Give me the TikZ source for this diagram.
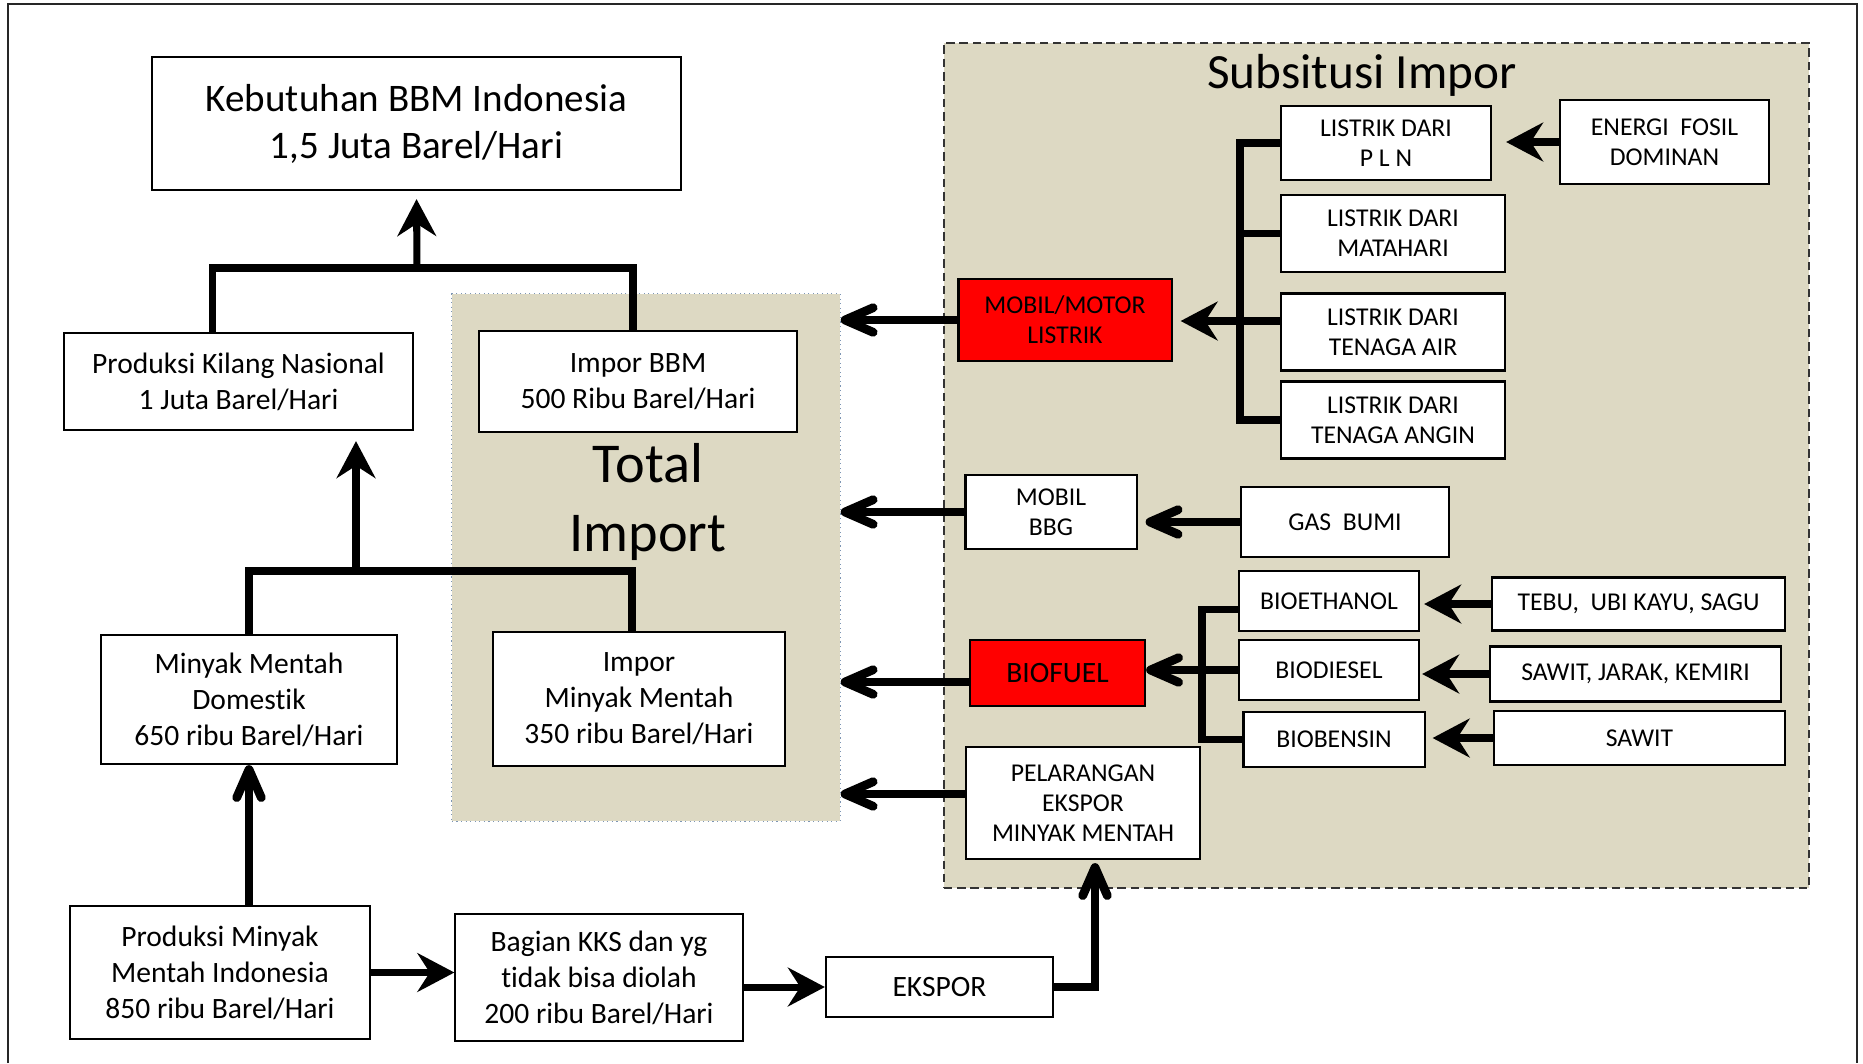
\documentclass[tikz,border=0pt]{standalone}
\usepackage{fontspec}
\setmainfont{Carlito}[Ligatures=NoCommon]
\usetikzlibrary{arrows.meta}
\definecolor{tanbg}{RGB}{221,217,195}
\definecolor{dotblue}{RGB}{125,150,180}
\newcommand{\fsHead}{\fontsize{11.1}{13.4}\selectfont}
\newcommand{\fsMain}{\fontsize{8.4}{10.2}\selectfont}
\newcommand{\fsSmall}{\fontsize{7.3}{8.6}\selectfont}
\newcommand{\fsTitle}{\fontsize{14}{17}\selectfont}
\newcommand{\fsBig}{\fontsize{16}{19.6}\selectfont}
\tikzset{
  sz/.style 2 args={minimum width=#1, minimum height=#2},
  box/.style={draw=black, line width=0.6pt, fill=white, align=center, inner sep=0pt, font=\fsMain},
  sbox/.style={box, font=\fsSmall},
  redbox/.style={box, fill=red},
  substbg/.style={draw=black!80, line width=0.6pt, dash pattern=on 2.4pt off 1.4pt, fill=tanbg, inner sep=0pt},
  impbg/.style={draw=dotblue, line width=0.3pt, densely dotted, fill=tanbg, inner sep=0pt},
  link/.style={line width=2pt},
  arrS/.style={line width=2pt, -{Stealth[length=10.5pt, width=11pt, inset=3.5pt]}},
  arrV/.style={line width=2.5pt, -{Straight Barb[round, length=8pt, width=7pt]}},
}
\begin{document}
\begin{tikzpicture}[x=0.01cm, y=-0.01cm]
    \useasboundingbox (0,0) rectangle (1863,1063);
    % Outer frame
    \draw[line width=0.8pt, black!85] (8,1063) -- (8,4) -- (1857,4) -- (1857,1063);

    % Background regions
    \node[impbg, sz={3.88cm}{5.27cm}] (totimp) at (646,557.5) {};
    \node[font=\fsBig, align=center] (totlabel) at (648,502) {Total\\Import};
    \node[substbg, sz={8.65cm}{8.45cm}] (subst) at (1376.5,465.5) {};
    \node[font=\fsTitle] (subtitle) at (1362,75) {Subsitusi Impor};

    % Supply side
    \node[box, font=\fsHead, sz={5.29cm}{1.33cm}] (keb) at (416.5,123.5) {Kebutuhan BBM Indonesia\\1,5 Juta Barel/Hari};
    \node[box, sz={3.49cm}{0.97cm}] (kilang) at (238.5,381.5) {Produksi Kilang Nasional\\1 Juta Barel/Hari};
    \node[box, sz={3.18cm}{1.01cm}] (imporbbm) at (638,381.5) {Impor BBM\\500 Ribu Barel/Hari};
    \node[box, sz={2.96cm}{1.29cm}] (minyakdom) at (249,699.5) {Minyak Mentah\\Domestik\\650 ribu Barel/Hari};
    \node[box, sz={2.92cm}{1.34cm}] (impormm) at (639,699) {Impor\\Minyak Mentah\\350 ribu Barel/Hari};
    \node[box, sz={3.00cm}{1.33cm}] (prodmm) at (220,972.5) {Produksi Minyak\\Mentah Indonesia\\850 ribu Barel/Hari};
    \node[box, sz={2.87cm}{1.27cm}] (bagian) at (599,977.5) {Bagian KKS dan yg\\tidak bisa diolah\\200 ribu Barel/Hari};
    \node[box, sz={2.27cm}{0.60cm}] (ekspor) at (939.5,987) {EKSPOR};

    % Substitution side
    \node[redbox, font=\fsSmall, sz={2.13cm}{0.82cm}] (mobmotor) at (1065,320) {MOBIL/MOTOR\\LISTRIK};
    \node[sbox, sz={2.10cm}{0.74cm}] (pln) at (1386,143) {LISTRIK DARI\\P L N};
    \node[sbox, sz={2.24cm}{0.77cm}] (matahari) at (1393,233.5) {LISTRIK DARI\\MATAHARI};
    \node[sbox, sz={2.24cm}{0.77cm}] (air) at (1393,332) {LISTRIK DARI\\TENAGA AIR};
    \node[sbox, sz={2.24cm}{0.77cm}] (angin) at (1393,420) {LISTRIK DARI\\TENAGA ANGIN};
    \node[sbox, sz={2.09cm}{0.84cm}] (fosil) at (1664.5,142) {ENERGI\ \ FOSIL\\DOMINAN};
    \node[sbox, sz={1.71cm}{0.74cm}] (mobbbg) at (1051,512) {MOBIL\\BBG};
    \node[sbox, sz={2.08cm}{0.70cm}] (gasbumi) at (1345,522) {GAS\ \ BUMI};
    \node[redbox, sz={1.75cm}{0.66cm}] (biofuel) at (1057.5,673) {BIOFUEL};
    \node[sbox, sz={1.80cm}{0.60cm}] (bioeth) at (1329,601) {BIOETHANOL};
    \node[sbox, sz={1.80cm}{0.60cm}] (biodsl) at (1329,670) {BIODIESEL};
    \node[sbox, sz={1.81cm}{0.55cm}] (bioben) at (1334,739.5) {BIOBENSIN};
    \node[sbox, sz={2.93cm}{0.53cm}] (tebu) at (1638.5,604) {TEBU,\ \ UBI KAYU, SAGU};
    \node[sbox, sz={2.91cm}{0.55cm}] (sawitjk) at (1635.5,674) {SAWIT, JARAK, KEMIRI};
    \node[sbox, sz={2.91cm}{0.54cm}] (sawit) at (1639.5,738) {SAWIT};
    \node[sbox, sz={2.34cm}{1.12cm}] (pelarang) at (1083,803) {PELARANGAN\\EKSPOR\\MINYAK MENTAH};

    % Junction points
    \coordinate (topjn) at (417,268);
    \coordinate (midjn) at (356,571);
    \coordinate (elbus) at (1240,321);
    \coordinate (biobus) at (1202,670);

    % Supply chain
    \draw[link] ([xshift=-0.26cm]kilang.north) |- (topjn) -| ([xshift=-0.05cm]imporbbm.north);
    \draw[arrS, shorten >=0.08cm] (topjn) -- (keb.south);
    \draw[link] (minyakdom.north) |- (midjn) -| ([xshift=-0.07cm]impormm.north);
    \draw[arrS, shorten >=0.1cm] (midjn) -- (midjn |- kilang.south);
    \draw[arrV] (minyakdom.south |- prodmm.north) -- (minyakdom.south);
    \draw[arrS] (prodmm.east) -- (prodmm.east -| bagian.west);
    \draw[arrS] (bagian.east |- ekspor.west) -- (ekspor.west);
    \draw[arrV, shorten >=0.03cm] (ekspor.east) -| ([xshift=0.12cm]pelarang.south);

    % Into total import
    \draw[arrV] (mobmotor.west) -- (mobmotor.west -| totimp.east);
    \draw[arrV] (mobbbg.west) -- (mobbbg.west -| totimp.east);
    \draw[arrV] ([yshift=-0.09cm]biofuel.west) -- ([yshift=-0.09cm]biofuel.west -| totimp.east);
    \draw[arrV] ([yshift=0.09cm]pelarang.west) -- ([yshift=0.09cm]pelarang.west -| totimp.east);

    % Electricity sources
    \draw[link] (pln.west) -| (elbus |- angin.west) -- (angin.west);
    \draw[link] (matahari.west) -- (matahari.west -| elbus);
    \draw[link] (elbus) -- (elbus -| air.west);
    \draw[arrS, shorten >=0.08cm] (elbus) -- (elbus -| mobmotor.east);
    \draw[arrS, shorten >=0.14cm] (fosil.west) -- (fosil.west -| pln.east);
    \draw[arrV, shorten >=0.08cm] (gasbumi.west) -- (gasbumi.west -| mobbbg.east);

    % Biofuel sources
    \draw[link] ([yshift=-0.08cm]bioeth.west) -| (biobus |- bioben.west) -- (bioben.west);
    \draw[arrV] (biodsl.west) -- (biodsl.west -| biofuel.east);
    \draw[arrS, shorten >=0.04cm] (tebu.west) -- (tebu.west -| bioeth.east);
    \draw[arrS, shorten >=0.02cm] (sawitjk.west) -- (sawitjk.west -| biodsl.east);
    \draw[arrS, shorten >=0.07cm] (sawit.west) -- (sawit.west -| bioben.east);
\end{tikzpicture}
\end{document}
